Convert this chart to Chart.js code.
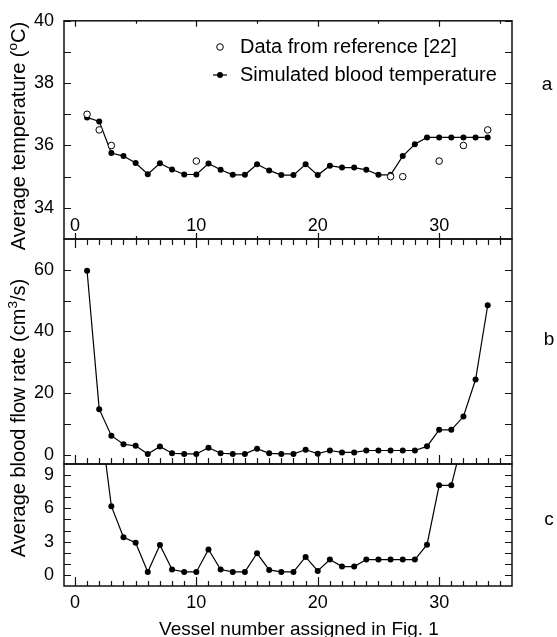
<!DOCTYPE html>
<html>
<head>
<meta charset="utf-8">
<script src="https://cdn.jsdelivr.net/npm/chart.js@4.4.1/dist/chart.umd.min.js"></script>
<style>
    body { margin: 0; background: #fff; }
    #wrap { position: relative; width: 557px; height: 637px; font-family: "Liberation Sans", Arial, sans-serif; color: #000; }
    #wrap canvas { position: absolute; left: 0; top: 0; }
    .lbl { position: absolute; font-size: 19px; line-height: 1; white-space: nowrap; transform: translate(-50%, -50%); }
    .rot { font-size: 20px; transform: translate(-50%, -50%) rotate(-90deg); }
    sup { font-size: 0.68em; line-height: 0; }
</style>
</head>
<body>
<div id="wrap">
    <canvas id="chart-a" width="557" height="637"></canvas>
    <canvas id="chart-b" width="557" height="637"></canvas>
    <canvas id="chart-c" width="557" height="637"></canvas>
    <div class="lbl rot" style="left:18px; top:136px;">Average temperature (<sup>o</sup>C)</div>
    <div class="lbl rot" style="left:18px; top:418px;">Average blood flow rate (cm<sup>3</sup>/s)</div>
    <div class="lbl" style="left:299px; top:628px;">Vessel number assigned in Fig. 1</div>
    <div class="lbl" style="left:547px; top:83px;">a</div>
    <div class="lbl" style="left:549px; top:338px;">b</div>
    <div class="lbl" style="left:549px; top:518px;">c</div>
</div>
<script>
// vessel numbers along x
const vessels = [1, 2, 3, 4, 5, 6, 7, 8, 9, 10, 11, 12, 13, 14, 15, 16, 17,
    18, 19, 20, 21, 22, 23, 24, 25, 26, 27, 28, 29, 30, 31, 32, 33, 34];

// simulated blood temperature (oC)
const simTemp = [36.9, 36.77, 35.76, 35.66, 35.44, 35.08, 35.43, 35.23, 35.07, 35.07,
    35.42, 35.22, 35.06, 35.06, 35.4, 35.2, 35.05, 35.05, 35.4, 35.05,
    35.35, 35.29, 35.29, 35.22, 35.06, 35.06, 35.66, 36.04, 36.26, 36.26,
    36.26, 36.26, 36.26, 36.26];

// data from reference [22]
const refVessels = [1, 2, 3, 10, 26, 27, 30, 32, 34];
const refTemp = [37.0, 36.5, 36.0, 35.5, 35.0, 35.0, 35.5, 36.0, 36.5];

// average blood flow rate (cm3/s)
const flowRate = [59.7, 14.8, 6.2, 3.4, 2.9, 0.27, 2.7, 0.48, 0.27, 0.27,
    2.3, 0.48, 0.27, 0.27, 1.95, 0.45, 0.27, 0.27, 1.62, 0.36,
    1.38, 0.75, 0.75, 1.38, 1.38, 1.38, 1.38, 1.38, 2.72, 8.08,
    8.08, 12.4, 24.4, 48.5];

// tick labels
const vesselTicks = [0, 10, 20, 30];
const tempTicks = [34, 36, 38, 40];
const flowTicks = [0, 20, 40, 60];
const zoomTicks = [0, 3, 6, 9];

const FONT = '"Liberation Sans", Arial, sans-serif';
Chart.defaults.font.family = FONT;
Chart.defaults.color = '#000';

const pts = (xs, ys) => xs.map((x, i) => ({ x: x, y: ys[i] }));
const fixedTicks = list => scale => { scale.ticks = list.map(v => ({ value: v })); };

// frame around each panel with inward tick marks
const frameTicks = {
    id: 'frameTicks',
    afterDatasetsDraw(chart, args, opts) {
        const { ctx, chartArea: { left, right, top, bottom }, scales: { x, y } } = chart;
        ctx.save();
        ctx.strokeStyle = '#111';
        ctx.lineWidth = 1.2;
        ctx.beginPath();
        for (let v = opts.yFrom; v <= opts.yTo + 1e-9; v += opts.yStep) {
            const py = Math.round(y.getPixelForValue(v)) + 0.5;
            ctx.moveTo(left, py); ctx.lineTo(left + 7, py);
            ctx.moveTo(right, py); ctx.lineTo(right - 7, py);
        }
        (opts.edges || []).forEach(e => {
            const base = e.side === 'top' ? top : bottom;
            const dir = e.side === 'top' ? 1 : -1;
            for (let v = 0; v <= 35; v += e.step) {
                const px = Math.round(x.getPixelForValue(v)) + 0.5;
                const kind = v % 10 === 0 ? 'major' : (v % 5 === 0 ? 'mid' : 'minor');
                const lenIn = e.inner[kind] || 0;
                const lenOut = (e.outer && e.outer[kind]) || 0;
                if (!lenIn && !lenOut) continue;
                ctx.moveTo(px, base - dir * lenOut);
                ctx.lineTo(px, base + dir * lenIn);
            }
        });
        ctx.stroke();
        ctx.lineWidth = 1.5;
        ctx.strokeRect(left, top, right - left, bottom - top);
        ctx.restore();
    }
};

// legend drawn inside the top panel
const insideLegend = {
    id: 'insideLegend',
    afterDraw(chart, args, opts) {
        if (!opts.show) return;
        const ctx = chart.ctx;
        ctx.save();
        ctx.font = '20px ' + FONT;
        ctx.textBaseline = 'middle';
        ctx.fillStyle = '#000';
        chart.data.datasets.forEach((ds, i) => {
            const yy = opts.y + i * opts.gap;
            if (ds.showLine) {
                ctx.strokeStyle = ds.borderColor;
                ctx.lineWidth = ds.borderWidth;
                ctx.beginPath();
                ctx.moveTo(opts.x - 7, yy);
                ctx.lineTo(opts.x + 7, yy);
                ctx.stroke();
            }
            ctx.beginPath();
            ctx.arc(opts.x, yy, ds.pointRadius, 0, Math.PI * 2);
            ctx.fillStyle = ds.pointBackgroundColor;
            ctx.fill();
            if (ds.pointBorderWidth) {
                ctx.strokeStyle = ds.pointBorderColor;
                ctx.lineWidth = ds.pointBorderWidth;
                ctx.stroke();
            }
            ctx.fillStyle = '#000';
            ctx.fillText(ds.label, opts.textX, yy);
        });
        ctx.restore();
    }
};

function lineSet(label, data) {
    return {
        label: label,
        data: data,
        showLine: true,
        borderColor: '#000',
        borderWidth: 1.2,
        tension: 0,
        pointRadius: 3,
        pointBackgroundColor: '#000',
        pointBorderWidth: 0
    };
}

function yScale(min, max, ticks) {
    return {
        min: min,
        max: max,
        afterFit: s => { s.width = 64; },
        afterBuildTicks: fixedTicks(ticks),
        grid: { display: false, drawTicks: false, tickLength: 0 },
        border: { display: false },
        ticks: { padding: 10, autoSkip: false, font: { size: 18 }, color: '#000' }
    };
}

function xScale(position, height, padding, show) {
    return {
        type: 'linear',
        position: position,
        min: -0.9,
        max: 36,
        display: show !== false,
        afterFit: s => { s.height = height; },
        afterBuildTicks: fixedTicks(vesselTicks),
        grid: { display: false, drawTicks: false, tickLength: 0 },
        border: { display: false },
        ticks: { padding: padding, autoSkip: false, maxRotation: 0, font: { size: 18 }, color: '#000' }
    };
}

function panel(id, datasets, pad, x, y, frame, legend) {
    return new Chart(document.getElementById(id), {
        type: 'scatter',
        data: { datasets: datasets },
        options: {
            responsive: false,
            animation: false,
            layout: { padding: pad },
            scales: { x: x, y: y },
            plugins: {
                legend: { display: false },
                tooltip: { enabled: false },
                frameTicks: frame,
                insideLegend: legend || { show: false }
            }
        },
        plugins: [frameTicks, insideLegend]
    });
}

// a: temperature
panel('chart-a', [
    {
        label: 'Data from reference [22]',
        data: pts(refVessels, refTemp),
        showLine: false,
        pointRadius: 3.3,
        pointBackgroundColor: '#fff',
        pointBorderColor: '#000',
        pointBorderWidth: 1
    },
    lineSet('Simulated blood temperature', pts(vessels, simTemp))
], { left: 0, right: 45, top: 15, bottom: 398 },
    xScale('bottom', 0, 0, false),
    yScale(33, 40, tempTicks),
    { yFrom: 34, yTo: 40, yStep: 1, edges: [{ side: 'top', step: 5, inner: { major: 6, mid: 3 } }] },
    { show: true, x: 220, textX: 240, y: 47, gap: 28 });

// b: flow rate (its top axis carries the labels shown just above it)
panel('chart-b', [lineSet('Average blood flow rate', pts(vessels, flowRate))],
    { left: 0, right: 45, top: 213, bottom: 173 },
    xScale('top', 26, 2),
    yScale(-3, 70, flowTicks),
    {
        yFrom: 0, yTo: 60, yStep: 10, edges: [
            { side: 'top', step: 1, inner: { major: 9, mid: 6, minor: 6 }, outer: { major: 6, mid: 3 } },
            { side: 'bottom', step: 1, inner: { major: 9, mid: 6, minor: 6 } }
        ]
    });

// c: flow rate, enlarged low range
panel('chart-c', [lineSet('Average blood flow rate', pts(vessels, flowRate))],
    { left: 0, right: 45, top: 464, bottom: 0 },
    xScale('bottom', 51, 6),
    yScale(-1, 10, zoomTicks),
    { yFrom: 0, yTo: 9, yStep: 1, edges: [{ side: 'bottom', step: 1, inner: { major: 9, mid: 5, minor: 5 } }] });
</script>
</body>
</html>
